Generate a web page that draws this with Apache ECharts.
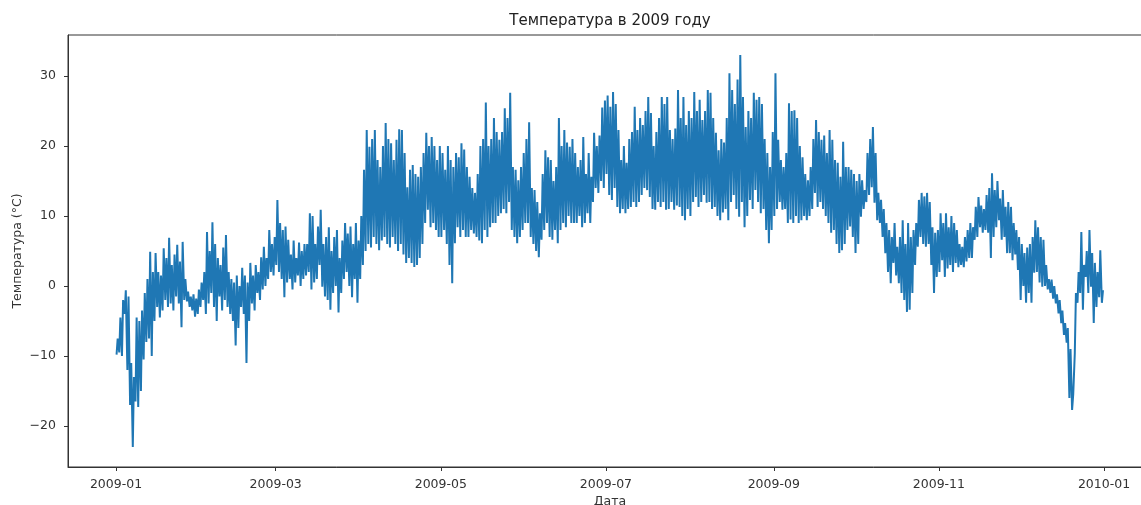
<!DOCTYPE html>
<html>
<head>
<meta charset="utf-8">
<script src="https://cdn.jsdelivr.net/npm/echarts@6/dist/echarts.min.js"></script>
<style>
html,body{margin:0;padding:0;background:#fff;}
#chart{width:1141px;height:505px;}
</style>
</head>
<body>
<div id="chart"></div>
<script>
// Daily minimum / maximum temperature (°C), 2009-01-01 … 2009-12-31
const dailyLow = [
-9.8,-9.5,-10,-4,-12,-17,-23,-16.5,-17.3,-15,
-10.5,-8,-7.5,-10,-5,-3,-4.5,-3.5,-2,-3,
-2.5,-3.5,-1.5,-2.5,-5.9,-2,-2.2,-3,-3.5,-4.4,
-4,-3,-2,-4,-2.5,-1,-3,-5,-1.5,-3.5,
-2,-3,-4,-5,-8.5,-6,-3,-4,-11,-5,
-2.5,-3.5,-1,-2,-0.5,0,1,2,1.5,3,
2,1,-1.6,0.5,1,-0.5,0.5,1.5,0,1,
1.5,2,-0.5,0.5,1,3,-0.1,-1.5,-2,-3.4,
-1,0,-3.8,-1,1,2,0,-1.6,1,-2.4,
1,3,5,6,5.5,7,6,5.1,6.5,7,
6,5.5,7,6,5,6,4.5,3.3,4,3.3,
2.7,3,4,6,9,10.9,8.4,9,8,7,
7,8,6,3,0.4,6.1,8.4,7,8,7,
7,8,7.5,7,6.5,6.1,8,7,8.4,9,
9,10,10.4,11,10.4,12,8,7,6.1,7,
8,9,9,7,6,5,4.1,6.6,8,9,
7,6.6,8,6.1,8,9,8.4,10,9,9,
9,10,8.4,9,10.4,9,12,14,13.3,15,
14,16,13,12.3,14,11.3,10.4,11,10.4,11,
11.3,12,11.3,12,13,14,13.7,12.7,11,10.9,
12,11.3,12,10.9,11,12,10.9,11.5,11.3,10,
9.4,11,10,12,12.7,11.3,12,13,11.9,12,
11,11.3,10,9.4,10.5,11,9.4,12,13,11,
9.9,12,8.4,10,12.3,11,13.7,12,10.4,11,
8,6.1,8,10,11,12,10.9,11,9,9.5,
9,10,9,9.4,10,9.4,10,11,13.3,11.3,
12,11,10,9,7.6,8,6,4.7,5.1,6,
8,8.5,7,4.7,6,9.9,11,12,13,14.1,
11.9,9.4,9,7,4.7,2,0.4,3.3,1.5,0.4,
-1,-2,-3.7,-3.4,-1,3,5.6,7,6,5.6,
6,3,-1,1.3,2,3.7,1.3,2.5,3,2,
3.3,2.7,3,2.7,3.5,4,4,6.6,7,8.4,
7.6,8,7.6,4,7,8.4,9.4,6.6,7,4.7,
4.7,3.7,4.5,2.3,-2,0,-2.4,-1,-2.4,1.9,
2,0.5,-0.1,0,-0.5,-1,-1.8,-2.5,-3.9,-5.3,
-7,-8.1,-16,-17.7,-9.6,-2.4,-1,-3.4,1.3,-1,-0.1,-5.3,-3,-1.6,-2.4
];
const dailyHigh = [
-7.5,-4.5,-2,-0.6,-1.5,-11,-13,-4.5,-5,-3.5,
-1,1,4.9,2,4.7,2,1.5,5.4,4,6.9,
3,4.5,5.9,3.5,6.3,1,-0.8,-1.5,-1.2,-1.8,
-0.5,0.5,2,7.7,5,9.1,6,4,3,5.5,
7.3,2,1,0.5,1.5,0,2.6,1.5,0.5,3.3,
1.5,3,2,4.1,5.6,4,8,6,7,12.3,
9,8,8.5,6.6,4.5,6.5,4,6.2,5,6,
6,10.4,10,6,8.5,10.9,6,7,8.4,5,
7,8,4,6.5,9,7.5,8.5,6,9,6.5,
10,16.6,22.3,19.9,21,22.3,18,17,20,23.3,
21,20.4,18,20.9,22.4,22.3,19,14.1,16.6,17.3,
16,15.6,17,19,21.9,20,21.3,20,18,20,
19,16.6,20,18,17,19,18.4,20.4,19.5,17,
15.6,14,13.3,16,20,21,26.2,20,21,24,
22,20.9,22,25.4,24,27.6,17,16.6,15.1,17,
19,21,23.4,14,13.7,12,10.4,16,19.4,18.4,
18,15,17,24,20,22.3,20.5,19.9,21,19,
17,18,21.3,16,19,15.6,21.9,20,21.5,25.5,
26.5,27.2,25.6,27.7,26,22.3,18,20,17.6,21,
22,25.6,22.3,24,23,25,27,24.7,20,22,
24,27,26,27,22.3,21,22.5,28,24,27,
23,25,24,27.7,25,26.6,23.7,25,28,27.6,
24,21.9,19.4,21,20.5,24,30.4,28,26,29.5,
33,27,22.7,25,24,27.6,26.6,27,26,21,
19,17,22,30.4,20.9,18,17,19,26.1,25,
25.1,24,20,18.4,16,15.1,17,21,23.7,22,
20.9,21.5,19,22.3,20.9,18,17.6,15.6,20.6,17,
17,16.6,16,15,16,15.1,13.7,19,21,22.7,
19,13.3,12.3,11,9,8,7,9,5.6,7,
9.4,6,9,7,8,9,12.3,13.3,12.8,13.3,
12,8.4,7.6,8,10.4,9,10.4,8.4,10,9,
8,6,5.6,7,8,9,8.4,11.3,12.7,11.5,
11,13,14,16.1,13.7,15,12.5,13.7,11.3,12,
11.3,9,8,7,6,4.7,5.5,6,7,9.4,
8.4,7,6.6,3,1,0.9,0,-1.2,-2,-3.5,
-5.3,-6,-9,-15.5,-1,2,7.7,3,5,8,4.7,3.3,2,5.1,-0.6
];
const xTickDates = ['2009-01-01','2009-03-01','2009-05-01','2009-07-01','2009-09-01','2009-11-01','2010-01-01'];
const xTickLabels = ['2009-01','2009-03','2009-05','2009-07','2009-09','2009-11','2010-01'];
const yTicks = [-20,-10,0,10,20,30];

const DAY = 86400000, HOUR = 3600000;
const start = Date.UTC(2009,0,1);
const end = Date.UTC(2010,0,1);
const series = [];
for (let i = 0; i < dailyLow.length; i++) {
  const t = start + i*DAY;
  series.push([t + 5*HOUR, dailyLow[i]]);
  series.push([t + 15*HOUR, dailyHigh[i]]);
}
const xTicks = xTickDates.map(s => Date.parse(s + 'T00:00:00Z'));
const font = 'DejaVu Sans';
const ink = '#333';

const chart = echarts.init(document.getElementById('chart'), null, {renderer:'canvas'});
chart.setOption({
  animation: false,
  backgroundColor: '#fff',
  title: {
    text: 'Температура в 2009 году',
    left: 610, top: 14, textAlign: 'center', padding: 0,
    textStyle: {fontFamily: font, fontSize: 15, fontWeight: 'normal', color: '#222'}
  },
  grid: {left: 68, top: 35, width: 1084, height: 432, outerBoundsMode: 'none', containLabel: false,
         show: true, borderColor: ink, borderWidth: 1, backgroundColor: 'transparent'},
  xAxis: {
    type: 'value',
    min: start - 17.73*DAY,
    max: end + 17.73*DAY,
    name: 'Дата', nameLocation: 'middle', nameGap: 28, nameMoveOverlap: false,
    nameTextStyle: {fontFamily: font, fontSize: 12.5, color: ink, verticalAlign: 'top'},
    axisLine: {show: true, onZero: false, lineStyle: {color: ink, width: 1}},
    axisTick: {show: true, length: 4, lineStyle: {color: ink}, customValues: xTicks},
    axisLabel: {
      show: true, fontFamily: font, fontSize: 12.5, color: ink, margin: 11,
      customValues: xTicks,
      formatter: v => { const k = xTicks.indexOf(v); return k >= 0 ? xTickLabels[k] : ''; }
    },
    splitLine: {show: false}
  },
  yAxis: {
    type: 'value',
    min: -25.86, max: 35.86,
    name: 'Температура (°C)', nameLocation: 'middle', nameGap: 44, nameRotate: 90, nameMoveOverlap: false,
    nameTextStyle: {fontFamily: font, fontSize: 12.5, color: ink},
    axisLine: {show: true, onZero: false, lineStyle: {color: ink, width: 1}},
    axisTick: {show: true, length: 4, lineStyle: {color: ink}, customValues: yTicks},
    axisLabel: {
      show: true, fontFamily: font, fontSize: 12.5, color: ink, margin: 12,
      customValues: yTicks,
      formatter: v => v < 0 ? '\u2212' + Math.abs(v) : String(v)
    },
    splitLine: {show: false}
  },
  series: [{
    type: 'line',
    data: series,
    showSymbol: false,
    sampling: false,
    clip: true,
    lineStyle: {color: '#1f77b4', width: 2},
    itemStyle: {color: '#1f77b4'}
  }]
});
</script>
</body>
</html>
